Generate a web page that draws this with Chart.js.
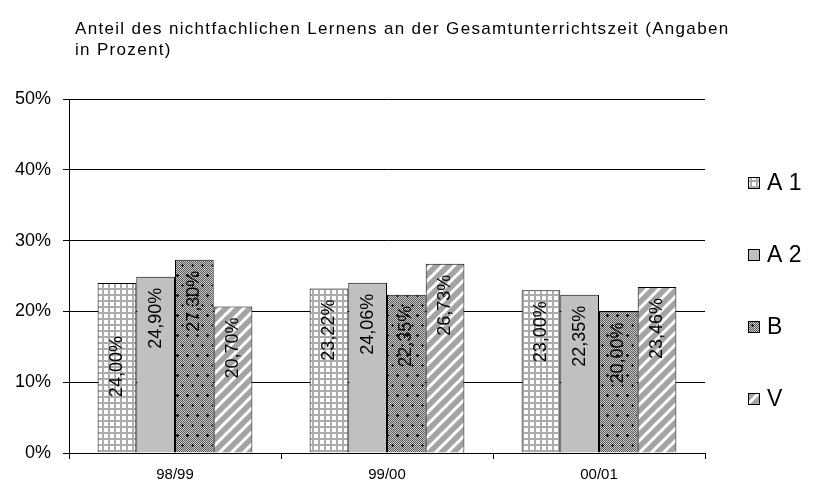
<!DOCTYPE html>
<html>
<head>
<meta charset="utf-8">
<script src="https://cdn.jsdelivr.net/npm/chart.js@4"></script>
<style>
  body { margin: 0; background: #fff; }
  canvas { display: block; }
</style>
</head>
<body>
<canvas id="grafico" width="818" height="490"></canvas>
<script>
// Daten (Anteile in Prozent)
var jahre = ["98/99", "99/00", "00/01"];
var serien = ["A 1", "A 2", "B", "V"];
var werteA1 = [24.00, 23.22, 23.00];
var werteA2 = [24.90, 24.06, 22.35];
var werteB  = [27.30, 22.35, 20.00];
var werteV  = [20.70, 26.73, 23.46];
var yTicks = [0, 10, 20, 30, 40, 50];
var titelZeilen = [
  "Anteil des nichtfachlichen Lernens an der Gesamtunterrichtszeit (Angaben",
  "in Prozent)"
];

var schrift = "'Liberation Sans', Arial, sans-serif";

function muster(art) {
  var c = document.createElement('canvas');
  var g = c.getContext('2d');
  if (art == 'gitter') {
    c.width = 6; c.height = 6;
    g.fillStyle = '#fff'; g.fillRect(0, 0, 6, 6);
    g.fillStyle = '#ababab';
    g.fillRect(0, 0, 6, 2);
    g.fillRect(0, 0, 2, 6);
  } else if (art == 'punkte') {
    c.width = 10; c.height = 20;
    for (var x = 0; x < 10; x++) {
      for (var y = 0; y < 20; y++) {
        g.fillStyle = ((x + y) % 2 == 0) ? '#5c5c5c' : '#c8c8c8';
        g.fillRect(x, y, 1, 1);
      }
    }
    g.fillStyle = '#000';
    [[2, 5], [7, 15]].forEach(function(p) {
      g.fillRect(p[0] - 1, p[1], 3, 1);
      g.fillRect(p[0], p[1] - 1, 1, 3);
    });
  } else if (art == 'streifen') {
    c.width = 12; c.height = 12;
    g.fillStyle = '#a4a4a4'; g.fillRect(0, 0, 12, 12);
    g.strokeStyle = '#fff'; g.lineWidth = 3;
    [[-6, 6, 6, -6], [0, 12, 12, 0], [6, 18, 18, 6]].forEach(function(l) {
      g.beginPath(); g.moveTo(l[0], l[1]); g.lineTo(l[2], l[3]); g.stroke();
    });
  }
  return document.getElementById('grafico').getContext('2d').createPattern(c, 'repeat');
}

var fuellungen = [muster('gitter'), '#c0c0c0', muster('punkte'), muster('streifen')];
var alleWerte = [werteA1, werteA2, werteB, werteV];

var datasets = serien.map(function(name, i) {
  return {
    label: name,
    data: alleWerte[i],
    backgroundColor: fuellungen[i],
    borderColor: '#000',
    borderWidth: 1,
    borderSkipped: 'bottom'
  };
});

// einzelne Beschriftung etwas tiefer (wie im Original)
var labelVersatz = { "0-0": 42 };

var beschriftungen = {
  id: 'beschriftungen',
  afterDatasetsDraw: function(chart) {
    var ctx = chart.ctx;
    ctx.save();
    ctx.font = '18px ' + schrift;
    ctx.fillStyle = '#000';
    ctx.textAlign = 'right';
    ctx.textBaseline = 'middle';
    chart.data.datasets.forEach(function(ds, i) {
      chart.getDatasetMeta(i).data.forEach(function(bar, j) {
        var text = ds.data[j].toFixed(2).replace('.', ',') + '%';
        var extra = labelVersatz[i + '-' + j] || 0;
        ctx.save();
        ctx.translate(bar.x, bar.y + 11 + extra);
        ctx.rotate(-Math.PI / 2);
        ctx.fillText(text, 0, 0);
        ctx.restore();
      });
    });
    ctx.restore();
  }
};

var titelUndLegende = {
  id: 'titelUndLegende',
  afterDraw: function(chart) {
    var ctx = chart.ctx;
    ctx.save();
    ctx.fillStyle = '#000';
    ctx.font = '17px ' + schrift;
    ctx.textBaseline = 'alphabetic';
    ctx.textAlign = 'left';
    // Titel auf die Breite des Originals bringen (Zeichenabstand)
    var breite = ctx.measureText(titelZeilen[0]).width;
    var abstand = (653 - breite) / (titelZeilen[0].length - 1);
    if ('letterSpacing' in ctx) ctx.letterSpacing = abstand.toFixed(2) + 'px';
    titelZeilen.forEach(function(z, k) {
      ctx.fillText(z, 75, 34 + k * 21);
    });
    if ('letterSpacing' in ctx) ctx.letterSpacing = '0px';
    // Legende rechts
    ctx.font = '23px ' + schrift;
    ctx.textBaseline = 'middle';
    chart.data.datasets.forEach(function(ds, i) {
      var y = 183 + i * 72;
      ctx.fillStyle = ds.backgroundColor;
      ctx.fillRect(748, y - 6, 12, 12);
      ctx.strokeStyle = '#000';
      ctx.lineWidth = 1;
      ctx.strokeRect(748.5, y - 5.5, 11, 11);
      ctx.fillStyle = '#000';
      ctx.fillText(ds.label, 767, y + 1);
    });
    ctx.restore();
  }
};

var ctx = document.getElementById('grafico').getContext('2d');
var chart = new Chart(ctx, {
  type: 'bar',
  data: { labels: jahre, datasets: datasets },
  options: {
    responsive: false,
    animation: false,
    layout: { padding: { top: 99, right: 113, left: 0, bottom: 0 } },
    datasets: { bar: { categoryPercentage: 0.73, barPercentage: 1.0 } },
    plugins: {
      legend: { display: false },
      title: { display: false },
      tooltip: { enabled: false }
    },
    scales: {
      y: {
        min: 0,
        max: 50,
        afterBuildTicks: function(scale) {
          scale.ticks = yTicks.map(function(v) { return { value: v }; });
        },
        afterFit: function(scale) { scale.width = 69; },
        ticks: {
          color: '#000',
          font: { family: schrift, size: 18 },
          padding: 12,
          callback: function(v) { return v + '%'; }
        },
        grid: { color: '#000', lineWidth: 1, drawTicks: true, tickLength: 6, tickColor: '#000' },
        border: { display: true, color: '#000' }
      },
      x: {
        afterFit: function(scale) { scale.height = 37; },
        ticks: {
          color: '#000',
          font: { family: schrift, size: 15 },
          padding: 7
        },
        grid: { offset: true, drawOnChartArea: false, drawTicks: true, tickLength: 6, color: '#000' },
        border: { display: true, color: '#000' }
      }
    }
  },
  plugins: [beschriftungen, titelUndLegende]
});
</script>
</body>
</html>
